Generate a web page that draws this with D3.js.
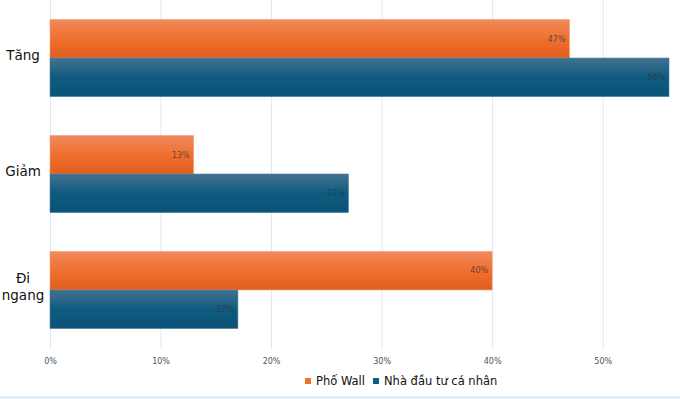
<!DOCTYPE html>
<html>
<head>
<meta charset="utf-8">
<script src="https://cdn.jsdelivr.net/npm/d3@7"></script>
<style>
  body { margin: 0; background: #fff; }
  svg { display: block; font-family: "DejaVu Sans", Verdana, sans-serif; }
</style>
</head>
<body>
<svg id="chart"></svg>
<script>
const categories = ['Tăng', 'Giảm', 'Đi ngang'];
const seriesNames = ['Phố Wall', 'Nhà đầu tư cá nhân'];
const wallStreet = [47, 13, 40];
const retail = [56, 27, 17];
const xTicks = [0, 10, 20, 30, 40, 50];

const config = {
  width: 680,
  height: 399,
  marginTop: 0,
  marginRight: 11,
  marginBottom: 51,
  marginLeft: 50,
  colors: ['#f07030', '#0e5a80'],
};

const { width, height, marginTop, marginRight, marginBottom, marginLeft } = config;
const svg = d3.select('#chart').attr('width', width).attr('height', height);

const x = d3.scaleLinear([0, 56], [marginLeft, width - marginRight]);
const y = d3.scaleBand(categories, [marginTop, height - marginBottom]).paddingInner(0.335).paddingOuter(0.168);
const ySub = d3.scaleBand([0, 1], [0, y.bandwidth()]);

// gradients
const defs = svg.append('defs');
const grads = [
  ['#f08a5c', '#f07030', '#e05e1c'],
  ['#43718f', '#0f5b80', '#0a5276'],
];
grads.forEach((g, i) => {
  const lg = defs.append('linearGradient').attr('id', 'g' + i).attr('x1', 0).attr('y1', 0).attr('x2', 0).attr('y2', 1);
  lg.append('stop').attr('offset', '0%').attr('stop-color', g[0]);
  lg.append('stop').attr('offset', '50%').attr('stop-color', g[1]);
  lg.append('stop').attr('offset', '100%').attr('stop-color', g[2]);
});

// grid
svg.append('g')
  .selectAll('line')
  .data(xTicks)
  .join('line')
  .attr('x1', (d) => x(d) + 0.5)
  .attr('x2', (d) => x(d) + 0.5)
  .attr('y1', 0)
  .attr('y2', height - marginBottom + 1)
  .attr('stroke', '#dde8f5')
  .attr('stroke-width', 1);

// x axis labels
const xAxis = d3.axisBottom(x).tickValues(xTicks).tickFormat((d) => d + '%').tickSize(0).tickPadding(10);
svg.append('g')
  .attr('transform', `translate(0,${height - marginBottom})`)
  .call(xAxis)
  .call((g) => g.select('.domain').remove())
  .call((g) => g.selectAll('text').attr('fill', '#4a5564').style('font-size', '8px').style('font-family', '"DejaVu Sans", sans-serif'));

// bars
const series = [wallStreet, retail];
const groups = svg.append('g')
  .selectAll('g')
  .data(categories)
  .join('g')
  .attr('transform', (d) => `translate(0,${y(d)})`);

groups.each(function (cat, ci) {
  const g = d3.select(this);
  series.forEach((s, si) => {
    const v = s[ci];
    g.append('rect')
      .attr('x', x(0))
      .attr('y', ySub(si))
      .attr('width', x(v) - x(0))
      .attr('height', ySub.bandwidth())
      .attr('fill', `url(#g${si})`)
      .attr('stroke', si === 0 ? '#f4a27c' : '#4d7f9f')
      .attr('stroke-width', 0.6);
    g.append('text')
      .attr('x', x(v) - 4)
      .attr('y', ySub(si) + ySub.bandwidth() / 2)
      .attr('dy', '0.35em')
      .attr('text-anchor', 'end')
      .style('font-size', '8px')
      .attr('fill', '#2e3440')
      .attr('fill-opacity', 0.75)
      .text(v + '%');
  });
});

// category labels
const yLabels = svg.append('g');
categories.forEach((c) => {
  const words = c === 'Đi ngang' ? ['Đi', 'ngang'] : [c];
  const cy = y(c) + y.bandwidth() / 2 - 3;
  const t = yLabels.append('text')
    .attr('text-anchor', 'middle')
    .attr('fill', '#111')
    .style('font-size', '13.5px');
  words.forEach((w, i) => {
    t.append('tspan')
      .attr('x', 23)
      .attr('y', cy + (i - (words.length - 1) / 2) * 17)
      .attr('dy', '0.35em')
      .text(w);
  });
});

// legend
const legend = svg.append('g').attr('transform', `translate(305,381)`);
let lx = 0;
seriesNames.forEach((name, i) => {
  legend.append('rect').attr('x', lx).attr('y', -3).attr('width', 6).attr('height', 6).attr('fill', config.colors[i]);
  const t = legend.append('text')
    .attr('x', lx + 11)
    .attr('y', 0)
    .attr('dy', '0.35em')
    .attr('fill', '#111')
    .style('font-size', '11.5px')
    .text(name);
  lx += 11 + t.node().getComputedTextLength() + 8;
});

// bottom border
svg.append('line')
  .attr('x1', 0).attr('x2', width)
  .attr('y1', height - 1.5).attr('y2', height - 1.5)
  .attr('stroke', '#d6e6f5')
  .attr('stroke-width', 2);
</script>
</body>
</html>
